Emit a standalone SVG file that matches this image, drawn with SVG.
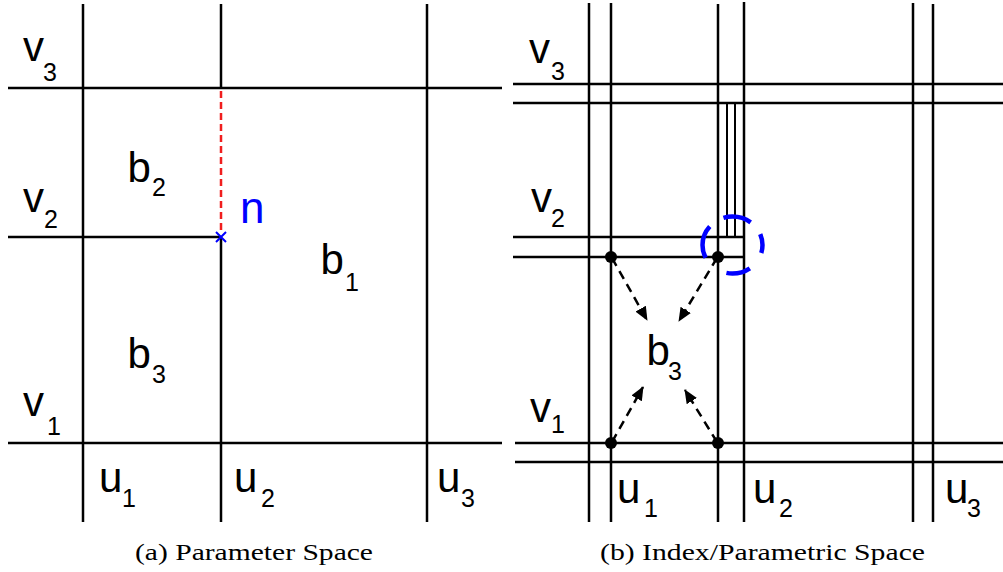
<svg xmlns="http://www.w3.org/2000/svg" width="1003" height="572" viewBox="0 0 1003 572">
<style>
.ln{stroke:#000;stroke-width:2.5;fill:none}
.thin{stroke:#000;stroke-width:2;fill:none}
.lb{font-family:"Liberation Sans",Arial,sans-serif;font-size:42px;fill:#000}
.sb{font-family:"Liberation Sans",Arial,sans-serif;font-size:25px;fill:#000}
.cap{font-family:"Liberation Serif","Times New Roman",serif;font-size:23px;fill:#000}
.arr{stroke:#000;stroke-width:2.5;stroke-dasharray:9 6;fill:none}
</style>
<defs>
<marker id="ah" markerUnits="userSpaceOnUse" markerWidth="14" markerHeight="12" viewBox="0 0 14 12" refX="13" refY="6" orient="auto">
<path d="M0,0 L14,6 L0,12 Z" fill="#000"/>
</marker>
</defs>
<rect width="1003" height="572" fill="#fff"/>

<g id="panel-a-grid">
<line class="ln" x1="83" y1="4" x2="83" y2="522"/>
<line class="ln" x1="221" y1="4" x2="221" y2="89"/>
<line class="ln" x1="221" y1="237" x2="221" y2="522"/>
<line class="ln" x1="427" y1="4" x2="427" y2="522"/>
<line class="ln" x1="8" y1="88" x2="502" y2="88"/>
<line class="ln" x1="8" y1="237" x2="221" y2="237"/>
<line class="ln" x1="8" y1="443" x2="502" y2="443"/>
</g>

<g id="panel-a-labels">
<text class="lb" x="23" y="61">v</text><text class="sb" x="43" y="81">3</text>
<text class="lb" x="23" y="212">v</text><text class="sb" x="44" y="228">2</text>
<text class="lb" x="23" y="416">v</text><text class="sb" x="47" y="435">1</text>
<text class="lb" x="127.5" y="182">b</text><text class="sb" x="152" y="196">2</text>
<text class="lb" x="127.5" y="368">b</text><text class="sb" x="152" y="383">3</text>
<text class="lb" x="320.5" y="274">b</text><text class="sb" x="345" y="291">1</text>
<text class="lb" x="99" y="492">u</text><text class="sb" x="122" y="507">1</text>
<text class="lb" x="234" y="492">u</text><text class="sb" x="261" y="507">2</text>
<text class="lb" x="437" y="492">u</text><text class="sb" x="461" y="507">3</text>
</g>

<g id="node-n">
<line x1="221" y1="91" x2="221" y2="233" stroke="#f01e1e" stroke-width="2.5" stroke-dasharray="7 4"/>
<path d="M216,232 L226,242 M226,232 L216,242" stroke="#0000ff" stroke-width="2"/>
<text class="lb" x="240" y="223" style="fill:#0000ff;font-size:44px">n</text>
</g>

<g id="panel-b-grid">
<line class="ln" x1="589" y1="3" x2="589" y2="522"/>
<line class="ln" x1="611" y1="3" x2="611" y2="522"/>
<line class="ln" x1="718" y1="4" x2="718" y2="522"/>
<line class="ln" x1="744" y1="2" x2="744" y2="522"/>
<line class="ln" x1="913" y1="3" x2="913" y2="522"/>
<line class="ln" x1="933" y1="4" x2="933" y2="522"/>
<line class="thin" x1="727" y1="103" x2="727" y2="237"/>
<line class="thin" x1="735" y1="103" x2="735" y2="237"/>
<line class="ln" x1="513" y1="84" x2="1003" y2="84"/>
<line class="ln" x1="513" y1="103" x2="1003" y2="103"/>
<line class="ln" x1="513" y1="237" x2="744" y2="237"/>
<line class="ln" x1="513" y1="257" x2="744" y2="257"/>
<line class="ln" x1="515" y1="443" x2="1003" y2="443"/>
<line class="ln" x1="515" y1="462" x2="1003" y2="462"/>
</g>

<g id="panel-b-labels">
<text class="lb" x="529" y="63">v</text><text class="sb" x="551" y="80">3</text>
<text class="lb" x="531" y="212">v</text><text class="sb" x="551" y="227">2</text>
<text class="lb" x="530" y="422">v</text><text class="sb" x="551" y="433">1</text>
<text class="lb" x="617" y="503">u</text><text class="sb" x="644" y="517">1</text>
<text class="lb" x="753" y="503">u</text><text class="sb" x="779" y="517">2</text>
<text class="lb" x="945" y="503">u</text><text class="sb" x="967" y="517">3</text>
</g>

<g id="node-b3">
<text class="lb" x="646.5" y="365">b</text><text class="sb" x="668" y="380">3</text>
</g>

<g id="connectors">
<line class="arr" x1="612" y1="258" x2="647" y2="320" marker-end="url(#ah)"/>
<line class="arr" x1="717" y1="258" x2="679" y2="321" marker-end="url(#ah)"/>
<line class="arr" x1="612" y1="442" x2="643" y2="387" marker-end="url(#ah)"/>
<line class="arr" x1="717" y1="442" x2="685" y2="390" marker-end="url(#ah)"/>
</g>

<g id="dots">
<circle cx="611" cy="257" r="6" fill="#000"/>
<circle cx="718" cy="257" r="6" fill="#000"/>
<circle cx="611" cy="443" r="6" fill="#000"/>
<circle cx="718" cy="443" r="6" fill="#000"/>
</g>

<g id="highlight">
<ellipse cx="732.5" cy="245" rx="30" ry="28.5" fill="none" stroke="#0000ff" stroke-width="4.5" pathLength="360" stroke-dasharray="38 38 48 52 66 32 56 30" stroke-dashoffset="22"/>
</g>

<g id="captions">
<text class="cap" x="135" y="560" textLength="238" lengthAdjust="spacingAndGlyphs">(a) Parameter Space</text>
<text class="cap" x="600" y="560" textLength="325" lengthAdjust="spacingAndGlyphs">(b) Index/Parametric Space</text>
</g>
</svg>
